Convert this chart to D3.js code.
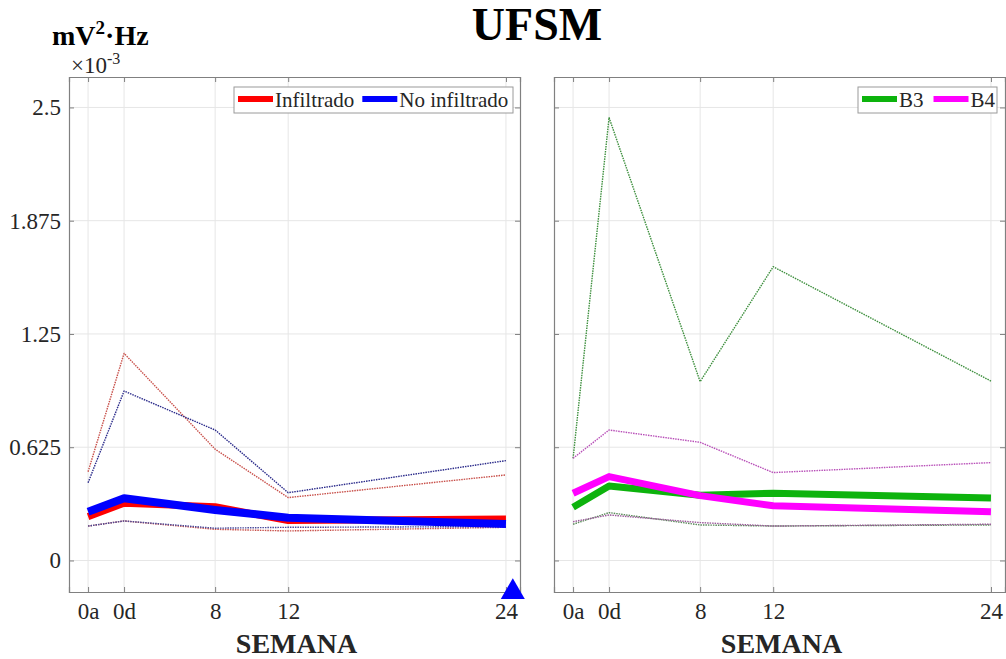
<!DOCTYPE html>
<html>
<head>
<meta charset="utf-8">
<script src="https://cdn.jsdelivr.net/npm/d3@7"></script>
<style>
  body { margin: 0; background: #fff; }
  svg { font-family: "Liberation Serif", "Times New Roman", serif; }
</style>
</head>
<body>
<svg id="chart" width="1006" height="659"></svg>
<script>
// week labels and their position on the x axis (uneven spacing, as in the original)
var weeks = ["0a", "0d", "8", "12", "24"];
var weekPos = [0, 1, 3.53, 5.56, 11.61];

// y ticks (x10^-3)
var yTicks = [0, 0.625, 1.25, 1.875, 2.5];

// left panel: Infiltrado / No infiltrado
var infMean = [0.242, 0.316, 0.297, 0.220, 0.229];
var infUp = [0.490, 1.143, 0.614, 0.347, 0.472];
var infLo = [0.190, 0.218, 0.172, 0.163, 0.183];
var noInfMean = [0.269, 0.343, 0.279, 0.236, 0.201];
var noInfUp = [0.429, 0.935, 0.720, 0.374, 0.551];
var noInfLo = [0.190, 0.218, 0.178, 0.183, 0.187];

// right panel: B3 / B4
var b3Mean = [0.294, 0.411, 0.360, 0.371, 0.345];
var b3Up = [0.564, 2.444, 0.987, 1.621, 0.990];
var b3Lo = [0.200, 0.264, 0.196, 0.190, 0.196];
var b4Mean = [0.371, 0.463, 0.358, 0.302, 0.269];
var b4Up = [0.564, 0.720, 0.652, 0.485, 0.540];
var b4Lo = [0.214, 0.251, 0.209, 0.190, 0.200];

// blue triangle marker sitting on the bottom edge of the left panel
var markerX = 11.8;

var svg = d3.select("#chart");

var plotTop = 77, plotBottom = 592;
var panelW = 451;
var xDomain = [-0.53, 12.0];
var yDomain = [-0.174, 2.668];

var yScale = d3.scaleLinear().domain(yDomain).range([plotBottom, plotTop]);

function toPoints(vals) {
  return vals.map(function(v, i) { return {x: weekPos[i], y: v}; });
}

function makePanel(left, showYLabels, series, legendItems, legendX) {
  var xScale = d3.scaleLinear().domain(xDomain).range([left, left + panelW]);
  var g = svg.append("g");

  // grid lines
  g.selectAll(".vgrid").data(weekPos).enter().append("line")
    .attr("x1", function(d) { return xScale(d); })
    .attr("x2", function(d) { return xScale(d); })
    .attr("y1", plotTop).attr("y2", plotBottom)
    .attr("stroke", "#e6e6e6").attr("stroke-width", 1);
  g.selectAll(".hgrid").data(yTicks).enter().append("line")
    .attr("x1", left).attr("x2", left + panelW)
    .attr("y1", function(d) { return yScale(d); })
    .attr("y2", function(d) { return yScale(d); })
    .attr("stroke", "#e6e6e6").attr("stroke-width", 1);

  // lines
  var line = d3.line()
    .x(function(d) { return xScale(d.x); })
    .y(function(d) { return yScale(d.y); });

  series.forEach(function(s) {
    g.append("path")
      .datum(toPoints(s.values))
      .attr("fill", "none")
      .attr("stroke", s.color)
      .attr("stroke-width", s.width)
      .attr("stroke-dasharray", s.dash || null)
      .attr("stroke-linejoin", "round")
      .attr("d", line);
  });

  // axes with inward ticks
  var axisColor = "#808080";
  var xb = g.append("g").attr("transform", "translate(0," + plotBottom + ")")
    .call(d3.axisBottom(xScale).tickValues(weekPos)
      .tickFormat(function(d, i) { return weeks[i]; })
      .tickSize(-5).tickPadding(11));
  var xt = g.append("g").attr("transform", "translate(0," + plotTop + ")")
    .call(d3.axisTop(xScale).tickValues(weekPos).tickFormat("").tickSize(-5));
  var yl = g.append("g").attr("transform", "translate(" + left + ",0)")
    .call(d3.axisLeft(yScale).tickValues(yTicks)
      .tickFormat(showYLabels ? function(d) { return d; } : "")
      .tickSize(-5).tickPadding(8));
  var yr = g.append("g").attr("transform", "translate(" + (left + panelW) + ",0)")
    .call(d3.axisRight(yScale).tickValues(yTicks).tickFormat("").tickSize(-5));

  [xb, xt, yl, yr].forEach(function(a) {
    a.select(".domain").attr("stroke", axisColor).attr("stroke-width", 1.2);
    a.selectAll(".tick line").attr("stroke", axisColor);
    a.selectAll("text")
      .style("font-family", "Liberation Serif, serif")
      .style("font-size", "23px")
      .attr("fill", "#262626");
  });

  // x axis title
  g.append("text")
    .attr("x", left + panelW / 2 + 2)
    .attr("y", 653)
    .attr("text-anchor", "middle")
    .style("font-size", "28px")
    .style("font-weight", "bold")
    .attr("fill", "#262626")
    .text("SEMANA");

  // legend
  var lg = g.append("g");
  var lx = legendX[0], lw = legendX[1];
  lg.append("rect")
    .attr("x", lx).attr("y", 87).attr("width", lw).attr("height", 26)
    .attr("fill", "#fff").attr("stroke", "#9a9a9a").attr("stroke-width", 1);
  var cursor = lx + 4;
  legendItems.forEach(function(item) {
    lg.append("line")
      .attr("x1", cursor).attr("x2", cursor + 35)
      .attr("y1", 99).attr("y2", 99)
      .attr("stroke", item.color).attr("stroke-width", 6);
    var t = lg.append("text")
      .attr("x", cursor + 37).attr("y", 107)
      .style("font-size", "21px")
      .attr("fill", "#262626")
      .text(item.label);
    cursor += 37 + t.node().getComputedTextLength() + item.gap;
  });

  return {g: g, x: xScale};
}

var leftPanel = makePanel(69, true, [
  {values: infUp, color: "#c8504a", width: 1.4, dash: "1.5,1"},
  {values: noInfUp, color: "#2a2a8a", width: 1.4, dash: "1.5,1"},
  {values: infLo, color: "#c8504a", width: 1.4, dash: "1.5,1"},
  {values: noInfLo, color: "#4a4a9a", width: 1.4, dash: "1.5,1"},
  {values: infMean, color: "#ff0000", width: 7},
  {values: noInfMean, color: "#0000ff", width: 8}
], [
  {label: "Infiltrado", color: "#ff0000", gap: 8},
  {label: "No infiltrado", color: "#0000ff", gap: 0}
], [234, 279]);

var rightPanel = makePanel(554, false, [
  {values: b3Up, color: "#3d8f3d", width: 1.4, dash: "1.5,1"},
  {values: b4Up, color: "#b84fb8", width: 1.4, dash: "1.5,1"},
  {values: b3Lo, color: "#5a8a5a", width: 1.4, dash: "1.5,1"},
  {values: b4Lo, color: "#9a5a9a", width: 1.4, dash: "1.5,1"},
  {values: b3Mean, color: "#0db30d", width: 7},
  {values: b4Mean, color: "#ff00ff", width: 7}
], [
  {label: "B3", color: "#0db30d", gap: 10},
  {label: "B4", color: "#ff00ff", gap: 0}
], [858, 139]);

// blue triangle marker
svg.append("path")
  .attr("d", d3.symbol().type(d3.symbolTriangle).size(250))
  .attr("transform", "translate(" + leftPanel.x(markerX) + "," + yScale(yDomain[0]) + ")")
  .attr("fill", "#0000ff");

// titles
svg.append("text")
  .attr("x", 537).attr("y", 40)
  .attr("text-anchor", "middle")
  .style("font-size", "46px")
  .style("font-weight", "bold")
  .attr("fill", "#000")
  .text("UFSM");

var unit = svg.append("text")
  .attr("x", 52).attr("y", 45)
  .style("font-size", "28px")
  .style("font-weight", "bold")
  .attr("fill", "#000");
unit.append("tspan").text("mV");
unit.append("tspan").attr("dy", -11).style("font-size", "19px").text("2");
unit.append("tspan").attr("dy", 11).text("\u00b7Hz");

var expo = svg.append("text")
  .attr("x", 71).attr("y", 73)
  .style("font-size", "23px")
  .attr("fill", "#262626");
expo.append("tspan").text("\u00d710");
expo.append("tspan").attr("dy", -9).style("font-size", "16px").text("-3");
</script>
</body>
</html>
